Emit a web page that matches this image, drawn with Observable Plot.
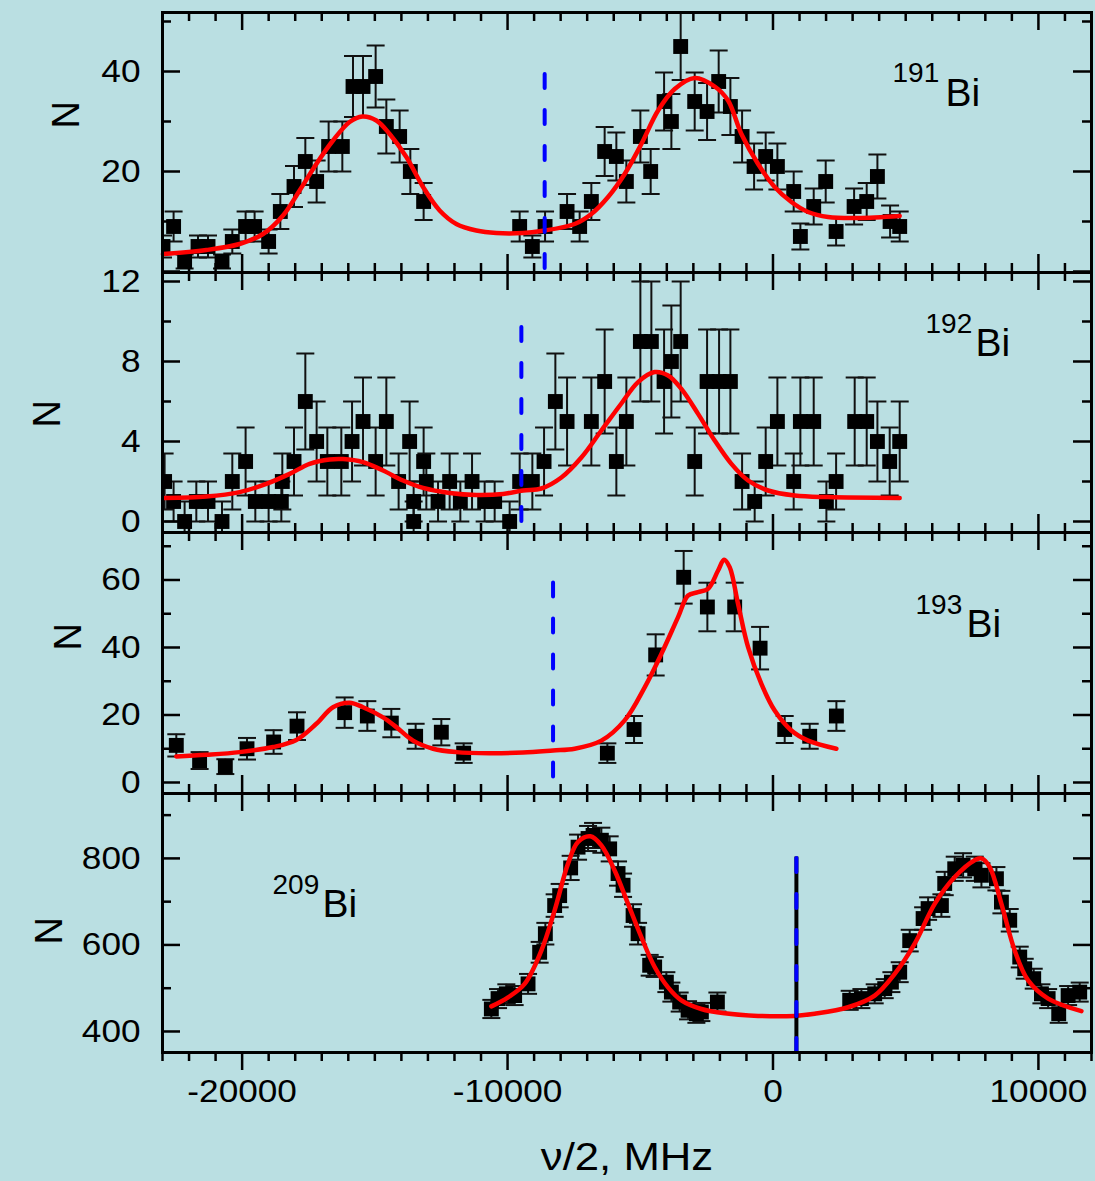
<!DOCTYPE html>
<html>
<head>
<meta charset="utf-8">
<script src="https://cdn.jsdelivr.net/npm/d3@7"></script>
<script src="https://cdn.jsdelivr.net/npm/@observablehq/plot@0.6"></script>
<style>
html,body{margin:0;padding:0;background:#badfe2;}
#chart{position:relative;width:1095px;height:1181px;background:#badfe2;overflow:hidden;font-family:"Liberation Sans",Arial,sans-serif;}
#chart svg{position:absolute;left:0;}
</style>
</head>
<body>
<div id="chart"></div>
<script>
// ---------------- DATA ----------------
// x: nu/2 in MHz ; N: counts ; Err: error bar half-length
const bi191V = [-22981,-22582,-22167,-21662,-21285,-20758,-20370,-19869,-19530,-19002,-18561,-18045,-17619,-17193,-16741,-16225,-15822,-15445,-14970,-14567,-14066,-13663,-13162,-9544,-9066,-8587,-7758,-7284,-6843,-6342,-5901,-5524,-4996,-4608,-4103,-3828,-3478,-2950,-2483,-2046,-1605,-1164,-712,-275,166,780,1032,1534,1986,2378,3056,3531,3934,4412,4774];
const bi191N = [5,9,2,5,5,2,6,9,9,6,12,17,22,18,25,25,37,37,39,29,27,20,14,9,5,9,12,9,14,24,23,18,27,20,34,30,45,34,32,38,33,27,21,23,21,16,7,13,18,8,13,14,19,10,9];
const bi191Err = [2.2,3,1.4,2.2,2.2,1.4,2.4,3,3,2.4,3.5,4.1,4.7,4.2,5,5,6.1,6.1,6.2,5.4,5.2,4.5,3.7,3,2.2,3,3.5,3,3.7,4.9,4.8,4.2,5.2,4.5,5.8,5.5,6.7,5.8,5.7,6.2,5.7,5.2,4.6,4.8,4.6,4,2.6,3.6,4.2,2.8,3.6,3.7,4.4,3.2,3];
const bi191FitV = [-22981,-21349,-20095,-19213,-18460,-17834,-17205,-16576,-15950,-15471,-14944,-14443,-13813,-13184,-12559,-11930,-11176,-10422,-9416,-8727,-7472,-6843,-6213,-5588,-4959,-4329,-3704,-2950,-2197,-1692,-1191,-561,64,693,1323,2076,3207,4774];
const bi191FitN = [3.5,4.3,5.5,7.5,11.2,16.2,21.5,26.2,29.9,31,30.2,27.5,22.9,16.9,12.2,9.5,8.2,7.7,7.7,8.1,9.5,11.5,14.9,19.5,25.5,32.2,36.5,38.7,37,34.2,27.5,21.5,16.9,13.9,11.9,10.9,10.7,11.1];

const bi192V = [-22921,-22582,-22167,-21726,-21285,-20758,-20370,-19869,-19503,-19002,-18523,-18486,-18045,-17619,-17193,-16790,-16263,-15859,-15445,-14970,-14567,-14104,-13689,-13538,-13538,-13162,-13060,-12619,-12182,-11779,-11338,-10863,-10486,-9921,-9544,-9066,-8625,-8199,-7758,-6843,-6342,-5901,-5524,-4996,-4582,-4103,-3828,-3478,-2950,-2483,-2031,-1605,-1164,-690,-275,166,780,1032,1534,2012,2378,3078,3531,3934,4397,4774];
const bi192N = [2,1,0,1,1,0,2,3,1,1,1,2,3,6,4,3,3,4,5,3,5,2,4,1,0,3,2,1,2,1,2,1,1,0,2,2,3,6,5,5,7,3,5,9,9,7,8,9,3,7,7,7,2,1,3,5,2,5,5,1,2,5,5,4,3,4];
const bi192Err = [1.4,1,1,1,1,1,1.4,1.7,1,1,1,1.4,1.7,2.4,2,1.7,1.7,2,2.2,1.7,2.2,1.4,2,1,1,1.7,1.4,1,1.4,1,1.4,1,1,1,1.4,1.4,1.7,2.4,2.2,2.2,2.6,1.7,2.2,3,3,2.6,2.8,3,1.7,2.6,2.6,2.6,1.4,1,1.7,2.2,1.4,2.2,2.2,1,1.4,2.2,2.2,2,1.7,2];
const bi192FitV = [-22921,-21349,-20095,-19089,-18211,-17457,-16704,-16199,-15445,-14691,-13938,-13184,-12182,-11176,-10170,-9416,-8727,-7973,-7220,-6466,-5712,-5083,-4458,-3953,-3452,-2822,-2197,-1567,-938,-185,818,2076,4774];
const bi192FitN = [1.18,1.25,1.47,1.88,2.38,2.88,3.1,3.12,2.97,2.55,2.05,1.68,1.43,1.33,1.38,1.55,1.65,2.2,3.2,4.55,5.9,6.97,7.47,7.3,6.63,5.38,4.05,2.88,2.05,1.55,1.3,1.22,1.18];

const bi193V = [-22480,-21602,-20633,-19816,-18814,-17932,-16138,-15283,-14379,-13463,-12495,-11654,-6240,-5234,-4420,-3365,-2472,-1443,-486,441,1383,2389];
const bi193N = [11,6.5,4.7,10,12,16.7,20.7,19.7,17.6,13.7,14.9,8.7,8.7,15.7,37.8,60.8,52,52,39.8,15.7,13.7,19.7];
const bi193Err = [3.3,2.5,2.2,3.2,3.5,4.1,4.5,4.4,4.2,3.7,3.9,2.9,2.9,4,6.1,7.8,7.2,7.2,6.3,4,3.7,4.4];
const bi193FitV = [-22480,-21349,-20095,-18836,-17958,-17205,-16576,-15950,-15445,-14691,-14190,-13561,-12807,-11930,-10675,-9416,-8286,-7472,-6466,-5588,-4834,-4205,-3576,-3199,-2822,-2445,-2069,-1843,-1632,-1315,-938,-437,64,693,1323,2389];
const bi193FitN = [7.7,8.2,9,10.5,12.6,17.4,22.3,23.6,22.3,19.3,16.4,12.4,10,9,8.7,8.9,9.5,10,12.4,18.4,28.2,38.1,49,55.4,56.4,57.4,62.8,66,63.8,52.9,40.1,29.2,21.3,15.4,12.4,10];

const bi209V = [-10611,-10358,-10046,-9733,-9228,-8791,-8576,-8226,-8037,-7623,-7344,-6967,-6779,-6466,-6153,-5837,-5648,-5271,-5083,-4646,-4458,-4017,-3828,-3516,-3199,-2886,-2698,-2095,2890,3331,3832,4209,4461,4774,5151,5656,5844,6345,6470,6847,7163,7600,7853,8418,8606,8919,9296,9484,9823,10113,10366,10765,11119,11556];
const bi209N = [452,476,487,483,510,583,626,691,714,778,826,846,853,842,822,765,738,668,626,553,549,514,491,468,449,441,445,468,472,476,487,499,514,537,610,661,684,691,742,776,784,776,761,753,699,657,572,545,522,487,476,441,483,491];
const bi209Err = [21,22,22,22,23,24,25,26,27,28,29,29,29,29,29,28,27,26,25,24,23,23,22,22,21,21,21,22,22,22,22,22,23,23,25,26,26,26,27,28,28,28,28,27,26,26,24,23,23,22,22,21,22,22];
const bi209FitV = [-10611,-9981,-9356,-8727,-8226,-7721,-7344,-6880,-6466,-5965,-5460,-4959,-4458,-3953,-3452,-2698,-1820,-561,818,1571,2830,3832,4586,5339,6093,6847,7600,7853,8165,8606,9107,9612,10366,11620];
const bi209FitN = [458,479,510,587,680,788,838,851,830,772,695,618,549,502,472,452,442,436,436,441,456,483,533,603,695,757,796,800,780,695,587,518,476,447];

// reference (dashed) lines: position and vertical extent, per panel
const refV = [-8602, -9480, -8286, 882];
const refLow = [0.6, 0, 1.6, 351.4];
const refHigh = [40.2, 10, 60, 803];

const isotopes = ["191", "192", "193", "209"];
const xMajorTicks = [-20000, -10000, 0, 10000];
const xMinorTicks = d3.range(-23000, 12001, 1000).filter(v => v % 10000 !== 0);
const xTitle = "ν/2, MHz";
const yTitle = "N";

// ---------------- LAYOUT ----------------
const W = 1095, ML = 162, MR = 4, FW = W - ML - MR;
const MAJ = 18, MIN = 9;
const capSymbol = {draw(ctx, size) { const w = Math.sqrt(size / Math.PI); ctx.moveTo(-w, 0); ctx.lineTo(w, 0); }};

const panels = [
  {top: 12, fh: 260, yDomain: [-0.2, 51.8], yMajor: [0, 20, 40], yMinor: [10, 30, 50], yLabels: [20, 40],
   v: bi191V, n: bi191N, err: bi191Err, fitV: bi191FitV, fitN: bi191FitN, sup: [730, 69.7], bi: [783, 93], nPos: [-110, 116]},
  {top: 272, fh: 260, yDomain: [-0.55, 12.45], yMajor: [0, 4, 8, 12], yMinor: [2, 6, 10], yLabels: [0, 4, 8, 12],
   v: bi192V, n: bi192N, err: bi192Err, fitV: bi192FitV, fitN: bi192FitN, sup: [763, 60.5], bi: [813, 83.5], nPos: [-129, 155]},
  {top: 532, fh: 261, yDomain: [-3.26, 74.07], yMajor: [0, 20, 40, 60], yMinor: [10, 30, 50, 70], yLabels: [0, 20, 40, 60],
   v: bi193V, n: bi193N, err: bi193Err, fitV: bi193FitV, fitN: bi193FitN, sup: [753, 81.3], bi: [804, 104.7], nPos: [-108, 118]},
  {top: 793, fh: 259, yDomain: [351.4, 950], yMajor: [400, 600, 800], yMinor: [500, 700, 900], yLabels: [400, 600, 800],
   v: bi209V, n: bi209N, err: bi209Err, fitV: bi209FitV, fitN: bi209FitN, sup: [110, 100], bi: [160, 123], nPos: [-127, 151], last: true}
];

const tickLabelSet = new Set([...xMajorTicks, ...panels.flatMap(p => p.yLabels)].map(String));
const chart = document.getElementById("chart");

panels.forEach((p, i) => {
  const mt = 10, mb = p.last ? 129 : 10;
  const pts = p.v.map((v, j) => ({v, n: p.n[j], e: p.err[j]}));
  const fit = p.fitV.map((v, j) => ({v, n: p.fitN[j]}));
  const ref = [{v: refV[i], lo: refLow[i], hi: refHigh[i]}];
  const tk = {stroke: "black", strokeWidth: 2.5};
  const marks = [
    Plot.ruleX(pts, {x: "v", y1: d => d.n - d.e, y2: d => d.n + d.e, stroke: "#111", strokeWidth: 2, clip: true}),
    Plot.dot(pts, {x: "v", y: d => d.n + d.e, symbol: capSymbol, r: 9, stroke: "#111", strokeWidth: 2, fill: "none", clip: true}),
    Plot.dot(pts, {x: "v", y: d => d.n - d.e, symbol: capSymbol, r: 9, stroke: "#111", strokeWidth: 2, fill: "none", clip: true}),
    Plot.dot(pts, {x: "v", y: "n", symbol: "square", r: 8.4, fill: "black", stroke: "none", clip: true}),
    Plot.line(fit, {x: "v", y: "n", stroke: "#ff0000", strokeWidth: 4.5, curve: "catmull-rom"}),
  ];
  if (p.last) marks.push(Plot.ruleX(ref, {x: "v", y1: "lo", y2: "hi", stroke: "black", strokeWidth: 4}));
  marks.push(Plot.ruleX(ref, {x: "v", y1: "lo", y2: "hi", stroke: "#0000ff", strokeWidth: 4, strokeDasharray: "14,22", strokeLinecap: "round"}));
  marks.push(Plot.frame({stroke: "black", strokeWidth: 3}));
  // x ticks: top (inward)
  marks.push(Plot.tickX(xMajorTicks, {x: d => d, insetBottom: p.fh - MAJ, ...tk}));
  marks.push(Plot.tickX(xMinorTicks, {x: d => d, insetBottom: p.fh - MIN, ...tk}));
  if (p.last) {
    marks.push(Plot.tickX(xMajorTicks, {x: d => d, insetTop: p.fh, insetBottom: -MAJ, ...tk}));
    marks.push(Plot.tickX(xMinorTicks, {x: d => d, insetTop: p.fh, insetBottom: -MIN, ...tk}));
    marks.push(Plot.text(xMajorTicks, {x: d => d, text: d => String(d), frameAnchor: "bottom", dy: 49, fontSize: 32, fill: "black"}));
    marks.push(Plot.text([xTitle], {text: d => d, frameAnchor: "bottom", dy: 117, fontSize: 38, fill: "black"}));
  } else {
    marks.push(Plot.tickX(xMajorTicks, {x: d => d, insetTop: p.fh - MAJ, ...tk}));
    marks.push(Plot.tickX(xMinorTicks, {x: d => d, insetTop: p.fh - MIN, ...tk}));
  }
  // y ticks: left and right (inward)
  marks.push(Plot.tickY(p.yMajor, {y: d => d, insetRight: FW - MAJ, ...tk}));
  marks.push(Plot.tickY(p.yMinor, {y: d => d, insetRight: FW - MIN, ...tk}));
  marks.push(Plot.tickY(p.yMajor, {y: d => d, insetLeft: FW - MAJ, ...tk}));
  marks.push(Plot.tickY(p.yMinor, {y: d => d, insetLeft: FW - MIN, ...tk}));
  marks.push(Plot.text(p.yLabels, {y: d => d, text: d => String(d), frameAnchor: "left", dx: -22, textAnchor: "end", fontSize: 32, fill: "black"}));
  marks.push(Plot.text([yTitle], {text: d => d, frameAnchor: "top-left", dx: p.nPos[0], dy: p.nPos[1], rotate: -90, fontSize: 38, fill: "black"}));
  marks.push(Plot.text([isotopes[i]], {text: d => d, frameAnchor: "top-left", dx: p.sup[0], dy: p.sup[1], textAnchor: "start", lineAnchor: "bottom", fontSize: 28, fill: "black"}));
  marks.push(Plot.text(["Bi"], {text: d => d, frameAnchor: "top-left", dx: p.bi[0], dy: p.bi[1], textAnchor: "start", lineAnchor: "bottom", fontSize: 39, fill: "black"}));

  const svg = Plot.plot({
    width: W, height: mt + p.fh + mb,
    marginLeft: ML, marginRight: MR, marginTop: mt, marginBottom: mb,
    x: {domain: [-23000, 12000], axis: null},
    y: {domain: p.yDomain, axis: null},
    style: {background: "transparent", overflow: "visible", fontFamily: "'Liberation Sans', Arial, sans-serif"},
    marks
  });
  svg.style.top = (p.top - mt) + "px";
  chart.appendChild(svg);

  // the reference lettering is slightly wider than Arial: stretch tick labels and the x title
  svg.querySelectorAll("text").forEach(t => {
    const s = t.textContent;
    let f = 0;
    if (tickLabelSet.has(s)) f = 1.1;
    else if (s === xTitle) f = 1.15;
    if (!f) return;
    const w = t.getComputedTextLength();
    if (w > 0) {
      t.setAttribute("textLength", (w * f).toFixed(1));
      t.setAttribute("lengthAdjust", "spacingAndGlyphs");
    }
  });
});
</script>
</body>
</html>
